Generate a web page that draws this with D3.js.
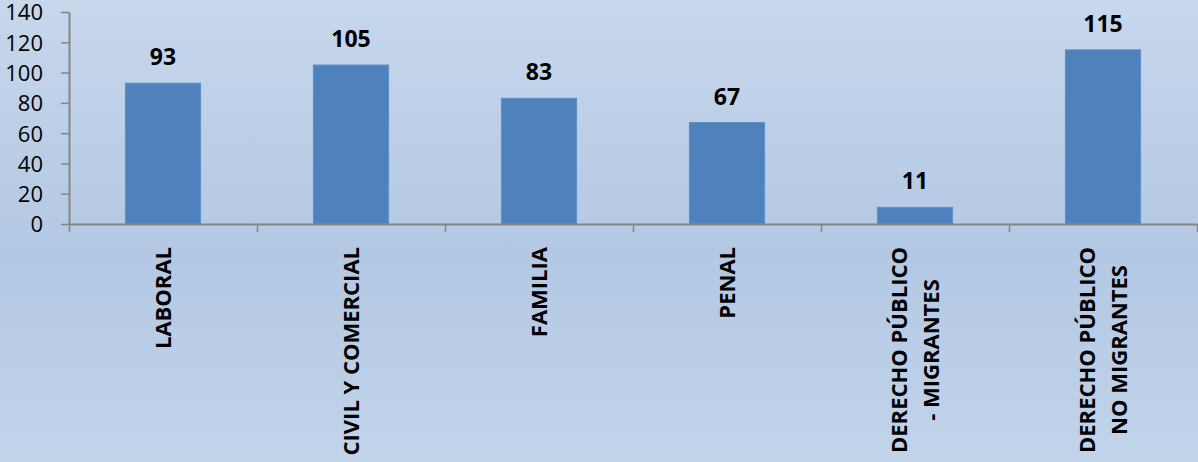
<!DOCTYPE html>
<html><head><meta charset="utf-8">
<script src="https://cdn.jsdelivr.net/npm/d3@7"></script>
<style>html,body{margin:0;padding:0;overflow:hidden;background:#bccfe7}</style>
</head><body>
<svg id="c" width="1198" height="462"></svg>
<script>
const categories = [["LABORAL"],["CIVIL Y COMERCIAL"],["FAMILIA"],["PENAL"],["DERECHO PÚBLICO","- MIGRANTES"],["DERECHO PÚBLICO","NO MIGRANTES"]];
const values = [93,105,83,67,11,115];
const yTicks = [0,20,40,60,80,100,120,140];

(function(){
const W=1198,H=462;
const m={left:69,right:1197,top:12,bottom:224};
const svg=d3.select("#c");
const defs=svg.append("defs");
const g=defs.append("linearGradient").attr("id","bg").attr("x1",0).attr("y1",0).attr("x2",0).attr("y2",1);
g.append("stop").attr("offset","0%").attr("stop-color","#c7d7ec");
g.append("stop").attr("offset","55%").attr("stop-color","#b3c8e3");
g.append("stop").attr("offset","100%").attr("stop-color","#c1d4ea");
svg.append("rect").attr("width",W).attr("height",H).attr("fill","url(#bg)");

const x=d3.scaleBand().domain(d3.range(categories.length)).range([m.left,m.right]).padding(0);
const y=d3.scaleLinear().domain([0,140]).range([m.bottom,m.top]);
const bw=x.bandwidth()*0.4;

svg.append("g").selectAll("rect").data(values).join("rect")
  .attr("x",(d,i)=>x(i)+x.bandwidth()/2-bw/2)
  .attr("y",d=>y(d)).attr("width",bw).attr("height",d=>y(0)-y(d))
  .attr("fill","#4f81bd").attr("stroke","#5f8fc8").attr("stroke-width",1);

svg.append("g").selectAll("text").data(values).join("text")
  .attr("x",(d,i)=>x(i)+x.bandwidth()/2).attr("y",d=>y(d)-18)
  .attr("text-anchor","middle").attr("font-family","Open Sans").attr("font-weight","bold")
  .attr("font-size",23).attr("fill","#000").text(d=>d);

const ya=svg.append("g").attr("transform",`translate(${m.left},0)`)
  .call(d3.axisLeft(y).tickValues(yTicks).tickSize(8).tickSizeOuter(0).tickPadding(18));
ya.selectAll("text").attr("font-family","Open Sans").attr("font-size",22).attr("fill","#000").attr("dy","0.36em");
ya.selectAll("line").attr("stroke","#868686").attr("stroke-width",1.5);
ya.select(".domain").attr("stroke","#868686").attr("stroke-width",2);

const xEdge=d3.scaleLinear().domain([0,categories.length]).range([m.left,m.right]);
const xa=svg.append("g").attr("transform",`translate(0,${m.bottom})`)
  .call(d3.axisBottom(xEdge).tickValues(d3.range(categories.length+1)).tickSize(8).tickSizeOuter(0).tickFormat(""));
xa.selectAll("line").attr("stroke","#868686").attr("stroke-width",1.5);
xa.select(".domain").attr("stroke","#868686").attr("stroke-width",2);

const labelTop=247, lh=32;
categories.forEach((lines,i)=>{
  const cx=x(i)+x.bandwidth()/2;
  const gg=svg.append("g").attr("transform",`translate(${cx},${labelTop}) rotate(-90)`);
  const ts=lines.map((t,k)=>gg.append("text").attr("font-family","Open Sans").attr("font-weight","bold")
    .attr("font-size",22).attr("fill","#000").text(t));
  const lens=ts.map(t=>t.node().getComputedTextLength());
  const mx=d3.max(lens);
  const n=lines.length;
  ts.forEach((t,k)=>{
    const off=(k-(n-1)/2)*lh;
    t.attr("text-anchor","middle").attr("x",-mx/2).attr("y",off+8);
  });
});
})();
</script>
</body></html>
